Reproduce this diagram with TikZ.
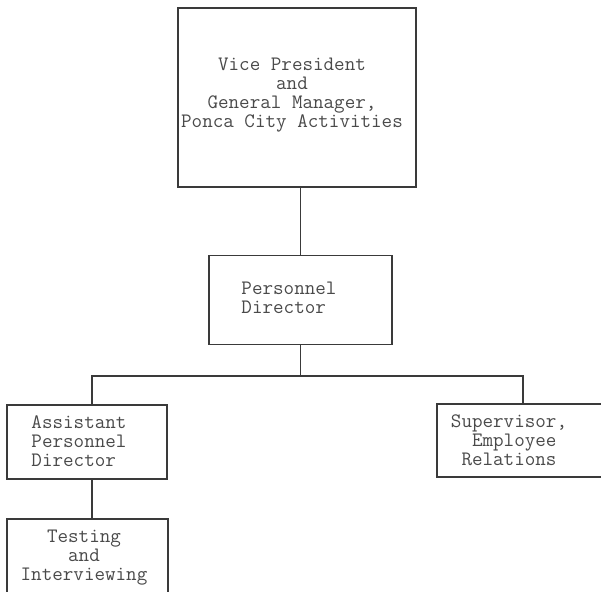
\documentclass[tikz,border=0pt]{standalone}
\usepackage{fontspec}
\usetikzlibrary{positioning}
\definecolor{ink}{HTML}{3A3A3A}
\definecolor{typeink}{HTML}{4A4A4A}

\begin{document}
\begin{tikzpicture}[x=1pt, y=-1pt,
    box/.style={draw=ink, line width=1.3pt, inner sep=0pt},
    txt/.style={text=typeink, inner sep=0pt, font=\ttfamily\fontsize{20.5}{19}\selectfont},
    link/.style={draw=ink, line width=1.5pt}]
    \useasboundingbox (0,0) rectangle (601,591);
    \clip (0,0) rectangle (601,591);

    % boxes
    \node[box, minimum width=238pt, minimum height=179pt] (vp) at (297,97.5) {};
    \node[box, minimum width=183pt, minimum height=89pt] (pd) at (300.5,300) {};
    \node[box, minimum width=160pt, minimum height=74pt] (apd) at (87,442) {};
    \node[box, minimum width=174pt, minimum height=73pt] (ser) at (524,440.5) {};
    \node[box, minimum width=161pt, minimum height=100pt] (ti) at (87.5,569) {};

    % texts
    \node[txt, align=center] (vpt) at (292,95) {Vice President\\and\\General Manager,\\Ponca City Activities};
    \node[txt, align=left] (pdt) at (289,298) {Personnel\\Director};
    \node[txt, align=left] (apdt) at (79,441.5) {Assistant\\Personnel\\Director};
    \node[txt, align=left] (sert) at (509,440.5) {Supervisor,\\~~Employee\\~Relations};
    \node[txt, align=center] (tit) at (84,558) {Testing\\and\\Interviewing};

    % connectors
    \coordinate (busl) at (92,376);
    \coordinate (busr) at (523,376);
    \draw[link] (vp.south -| pd.north) -- (pd.north);
    \draw[link] (pd.south) -- (pd.south |- busl);
    \draw[link] (busl |- apd.north) -- (busl) -- (busr) -- (busr |- ser.north);
    \draw[link] (busl |- apd.south) -- (busl |- ti.north);
\end{tikzpicture}
\end{document}
